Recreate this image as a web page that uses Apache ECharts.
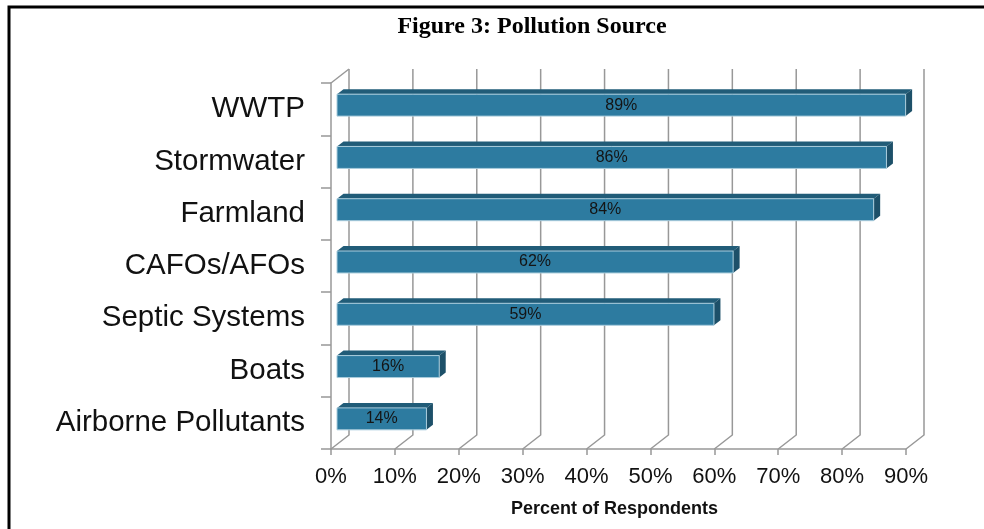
<!DOCTYPE html>
<html>
<head>
<meta charset="utf-8">
<title>Figure 3: Pollution Source</title>
<script src="https://cdn.jsdelivr.net/npm/echarts@6/dist/echarts.min.js"></script>
<style>
  html, body { margin: 0; padding: 0; background: #ffffff; }
  #chart { width: 984px; height: 529px; }
</style>
</head>
<body>
<div id="chart"></div>
<script>
// Survey: which sources respondents named as causing pollution
const sources = ['WWTP', 'Stormwater', 'Farmland', 'CAFOs/AFOs', 'Septic Systems', 'Boats', 'Airborne Pollutants'];
const percents = [89, 86, 84, 62, 59, 16, 14];
const percentTicks = [0, 10, 20, 30, 40, 50, 60, 70, 80, 90];

// Pseudo-3D look: offset of the back wall and of the bar blocks
const WALL = [18, -14];
const BAR_SHIFT = [6, -4];
const BAR_DEPTH = [6.5, -5];
const GRID_COLOR = '#989898';

const chart = echarts.init(document.getElementById('chart'), null, { renderer: 'canvas' });

function renderWall(params, api) {
  const cs = params.coordSys;
  const v = api.value(0);
  const p = api.coord([v, sources[sources.length - 1]]);
  const x = p[0];
  const top = cs.y;
  const bottom = cs.y + cs.height;
  const children = [{
    type: 'polyline',
    shape: { points: [[x + WALL[0], top + WALL[1]], [x + WALL[0], bottom + WALL[1]], [x, bottom]] },
    style: { stroke: GRID_COLOR, lineWidth: 1.5, fill: null }
  }];
  if (v === 0) {
    children.push({
      type: 'line',
      shape: { x1: x, y1: top, x2: x + WALL[0], y2: top + WALL[1] },
      style: { stroke: GRID_COLOR, lineWidth: 1.5 }
    });
  }
  return { type: 'group', children: children };
}

function renderBar(params, api) {
  const cat = api.value(1);
  const val = api.value(0);
  const base = api.coord([0, cat]);
  const end = api.coord([val, cat]);
  const h = api.size([0, 1])[1] * 0.42;
  const x0 = base[0] + BAR_SHIFT[0];
  const x1 = end[0] + BAR_SHIFT[0];
  const yc = base[1] + BAR_SHIFT[1];
  const top = yc - h / 2;
  const bot = yc + h / 2;
  const dx = BAR_DEPTH[0], dy = BAR_DEPTH[1];
  return {
    type: 'group',
    children: [
      {
        type: 'polygon',
        shape: { points: [[x0, top], [x1, top], [x1 + dx, top + dy], [x0 + dx, top + dy]] },
        style: { fill: '#215c78' }
      },
      {
        type: 'polygon',
        shape: { points: [[x1, top], [x1 + dx, top + dy], [x1 + dx, bot + dy], [x1, bot]] },
        style: { fill: '#1d5069' }
      },
      {
        type: 'rect',
        shape: { x: x0, y: top, width: x1 - x0, height: h },
        style: { fill: '#2d7ba0', stroke: '#a9ccdc', lineWidth: 1 }
      },
      {
        type: 'text',
        x: (x0 + x1) / 2,
        y: yc,
        style: {
          text: val + '%',
          align: 'center',
          verticalAlign: 'middle',
          fill: '#141414',
          font: '16px "Liberation Sans", Arial, sans-serif'
        }
      }
    ]
  };
}

const option = {
  animation: false,
  backgroundColor: '#ffffff',
  title: {
    text: 'Figure 3: Pollution Source',
    left: 532,
    top: 10,
    textAlign: 'center',
    textStyle: {
      fontFamily: '"Liberation Serif", "Times New Roman", serif',
      fontWeight: 'bold',
      fontSize: 24,
      color: '#000000'
    },
    padding: [5, 14, 5, 0]
  },
  graphic: [{
    type: 'polyline',
    shape: { points: [[9, 529], [9, 7], [984, 7]] },
    style: { stroke: '#000000', lineWidth: 3, fill: null },
    silent: true
  }],
  grid: { left: 331, right: 78, top: 83, bottom: 80 },
  xAxis: {
    type: 'value',
    min: 0,
    max: 90,
    interval: 10,
    name: 'Percent of Respondents',
    nameLocation: 'middle',
    nameGap: 51,
    nameTextStyle: {
      fontFamily: '"Liberation Sans", Arial, sans-serif',
      fontWeight: 'bold',
      fontSize: 18,
      color: '#111111',
      padding: [0, 8, 0, 0]
    },
    axisLine: { show: true, lineStyle: { color: GRID_COLOR, width: 1.5 } },
    axisTick: { show: true, length: 6, lineStyle: { color: GRID_COLOR, width: 1.5 } },
    axisLabel: {
      formatter: '{value}%',
      margin: 17,
      fontFamily: '"Liberation Sans", Arial, sans-serif',
      fontSize: 22,
      color: '#111111'
    },
    splitLine: { show: false }
  },
  yAxis: {
    type: 'category',
    data: sources,
    inverse: true,
    axisLine: { show: true, lineStyle: { color: GRID_COLOR, width: 1.5 } },
    axisTick: { show: true, length: 10, alignWithLabel: false, lineStyle: { color: GRID_COLOR, width: 1.5 } },
    axisLabel: {
      margin: 26,
      fontFamily: '"Liberation Sans", Arial, sans-serif',
      fontSize: 29.5,
      color: '#111111',
      padding: [4, 0, 0, 0]
    },
    splitLine: { show: false }
  },
  series: [
    {
      type: 'custom',
      name: 'wall',
      silent: true,
      z: 1,
      renderItem: renderWall,
      encode: { x: 0 },
      data: percentTicks.map(function (t) { return [t]; })
    },
    {
      type: 'custom',
      name: 'Percent of Respondents',
      z: 3,
      renderItem: renderBar,
      encode: { x: 0, y: 1 },
      data: percents.map(function (v, i) { return [v, sources[i]]; })
    }
  ]
};

chart.setOption(option);
</script>
</body>
</html>
